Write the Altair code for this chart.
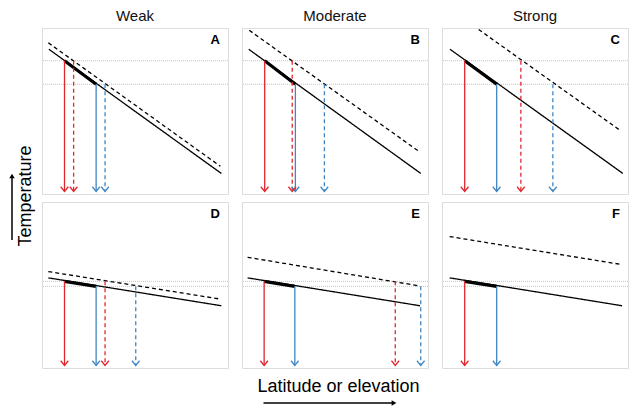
import altair as alt
import pandas as pd

FONT = "Liberation Sans"
RED = "#e3262e"
BLUE = "#3f86c3"

panels = ["A", "B", "C", "D", "E", "F"]
col_titles = ["Weak", "Moderate", "Strong"]

# current (solid) temperature gradient: start / end
solid_x0 = [0.037, 0.036, 0.043, 0.034, 0.030, 0.041]
solid_y0 = [0.872, 0.872, 0.872, 0.543, 0.543, 0.543]
solid_x1 = [0.964, 0.961, 0.972, 0.964, 0.957, 0.968]
solid_y1 = [0.124, 0.124, 0.124, 0.375, 0.375, 0.375]
# warmed (dashed) gradient
dashed_x0 = [0.034, 0.039, 0.197, 0.034, 0.030, 0.041]
dashed_y0 = [0.911, 0.986, 0.991, 0.581, 0.667, 0.792]
dashed_x1 = [0.959, 0.952, 0.963, 0.959, 0.957, 0.968]
dashed_y1 = [0.167, 0.256, 0.379, 0.415, 0.494, 0.623]
# thermal limits (grey dotted levels)
upper_level = [0.803, 0.803, 0.803, 0.522, 0.522, 0.522]
lower_level = [0.661, 0.661, 0.661, 0.492, 0.492, 0.492]
# range edges (arrows)
red_solid_x = [0.121, 0.122, 0.122, 0.121, 0.119, 0.122]
blue_solid_x = [0.291, 0.287, 0.294, 0.291, 0.284, 0.294]
red_dashed_x = [0.170, 0.270, 0.424, 0.339, 0.824, None]
blue_dashed_x = [0.339, 0.443, 0.596, 0.504, 0.961, None]
arrow_tip = 0.015

W, H = 186, 166
XS = alt.Scale(domain=[0, 1])
YS = alt.Scale(domain=[0, 1])
col_scale = alt.Scale(domain=["red", "blue"], range=[RED, BLUE])
dash_scale = alt.Scale(domain=["solid", "dashed"], range=[[1, 0], [4, 3]])


def panel(i):
    levels = pd.DataFrame({"level": [upper_level[i], lower_level[i]]})
    grey = alt.Chart(levels).mark_rule(color="#c4c4c4", strokeDash=[1, 1], strokeWidth=1).encode(
        y=alt.Y("level:Q", scale=YS, axis=None)
    )
    lines = pd.DataFrame({
        "x": [solid_x0[i], dashed_x0[i]],
        "y": [solid_y0[i], dashed_y0[i]],
        "x2": [solid_x1[i], dashed_x1[i]],
        "y2": [solid_y1[i], dashed_y1[i]],
        "dash": ["solid", "dashed"],
    })
    gl = alt.Chart(lines).mark_rule(color="black", strokeWidth=1.3).encode(
        x=alt.X("x:Q", scale=XS, axis=None),
        y=alt.Y("y:Q", scale=YS, axis=None),
        x2="x2:Q",
        y2="y2:Q",
        strokeDash=alt.StrokeDash("dash:N", scale=dash_scale, legend=None),
    )
    seg = pd.DataFrame({"x": [red_solid_x[i]], "y": [upper_level[i]],
                        "x2": [blue_solid_x[i]], "y2": [lower_level[i]]})
    thick = alt.Chart(seg).mark_rule(color="black", strokeWidth=3.2).encode(
        x=alt.X("x:Q", scale=XS, axis=None),
        y=alt.Y("y:Q", scale=YS, axis=None),
        x2="x2:Q",
        y2="y2:Q",
    )
    ax, ay, ac, ad = [], [], [], []
    for xv, yv, c, d in [
        (red_solid_x[i], upper_level[i], "red", "solid"),
        (blue_solid_x[i], lower_level[i], "blue", "solid"),
        (red_dashed_x[i], upper_level[i], "red", "dashed"),
        (blue_dashed_x[i], lower_level[i], "blue", "dashed"),
    ]:
        if xv is None:
            continue
        ax.append(xv); ay.append(yv); ac.append(c); ad.append(d)
    arr = pd.DataFrame({"x": ax, "y": ay, "tip": [arrow_tip] * len(ax), "c": ac, "dash": ad})
    shafts = alt.Chart(arr).mark_rule(strokeWidth=1.3).encode(
        x=alt.X("x:Q", scale=XS, axis=None),
        y=alt.Y("y:Q", scale=YS, axis=None),
        y2="tip:Q",
        color=alt.Color("c:N", scale=col_scale, legend=None),
        strokeDash=alt.StrokeDash("dash:N", scale=dash_scale, legend=None),
    )
    heads = alt.Chart(arr).mark_point(
        shape="M-0.8,-1L0,0L0.8,-1", filled=False, strokeWidth=1.3, size=90, opacity=1
    ).encode(
        x=alt.X("x:Q", scale=XS, axis=None),
        y=alt.Y("tip:Q", scale=YS, axis=None),
        color=alt.Color("c:N", scale=col_scale, legend=None),
    )
    lab = alt.Chart(pd.DataFrame({"label": [panels[i]]})).mark_text(
        align="right", baseline="alphabetic", fontSize=13, fontWeight="bold", font=FONT, color="black"
    ).encode(x=alt.value(W - 8), y=alt.value(16), text="label:N")

    layers = [grey, gl, thick, shafts, heads, lab]

    if i == 0:
        ytxt = alt.Chart(pd.DataFrame({"t": ["Temperature"]})).mark_text(
            angle=270, fontSize=18, font=FONT, color="black", align="center", baseline="middle"
        ).encode(x=alt.value(-16), y=alt.value(168), text="t:N")
        yline = alt.Chart(pd.DataFrame({"t": [0]})).mark_rule(color="black", strokeWidth=1.5).encode(
            x=alt.value(-30), y=alt.value(212), y2=alt.value(150)
        )
        yhead = alt.Chart(pd.DataFrame({"t": [0]})).mark_point(
            shape="triangle-up", filled=True, color="black", size=30, opacity=1
        ).encode(x=alt.value(-30), y=alt.value(148))
        layers += [ytxt, yline, yhead]
    if i == 4:
        xtxt = alt.Chart(pd.DataFrame({"t": ["Latitude or elevation"]})).mark_text(
            fontSize=18, font=FONT, color="black", align="center", baseline="middle"
        ).encode(x=alt.value(96.5), y=alt.value(185), text="t:N")
        xline = alt.Chart(pd.DataFrame({"t": [0]})).mark_rule(color="black", strokeWidth=1.5).encode(
            x=alt.value(21.5), x2=alt.value(150), y=alt.value(201)
        )
        xhead = alt.Chart(pd.DataFrame({"t": [0]})).mark_point(
            shape="triangle-right", filled=True, color="black", size=30, opacity=1
        ).encode(x=alt.value(152), y=alt.value(201))
        layers += [xtxt, xline, xhead]

    ch = alt.layer(*layers).properties(width=W, height=H)
    if i < 3:
        ch = ch.properties(title=alt.TitleParams(col_titles[i], fontSize=15, fontWeight="normal",
                                                 font=FONT, color="#111111", offset=4))
    return ch


chart = alt.concat(
    *[panel(i) for i in range(6)],
    columns=3,
    spacing=alt.RowColnumber(row=8, column=14),
    bounds="flush",
).properties(
    padding={"left": 0, "right": 0, "top": 0, "bottom": 0}
).configure_view(stroke="#a8a8a8", strokeWidth=1.5).configure(font=FONT)

chart.save("out.html", embed_options={"renderer": "svg", "actions": False})
